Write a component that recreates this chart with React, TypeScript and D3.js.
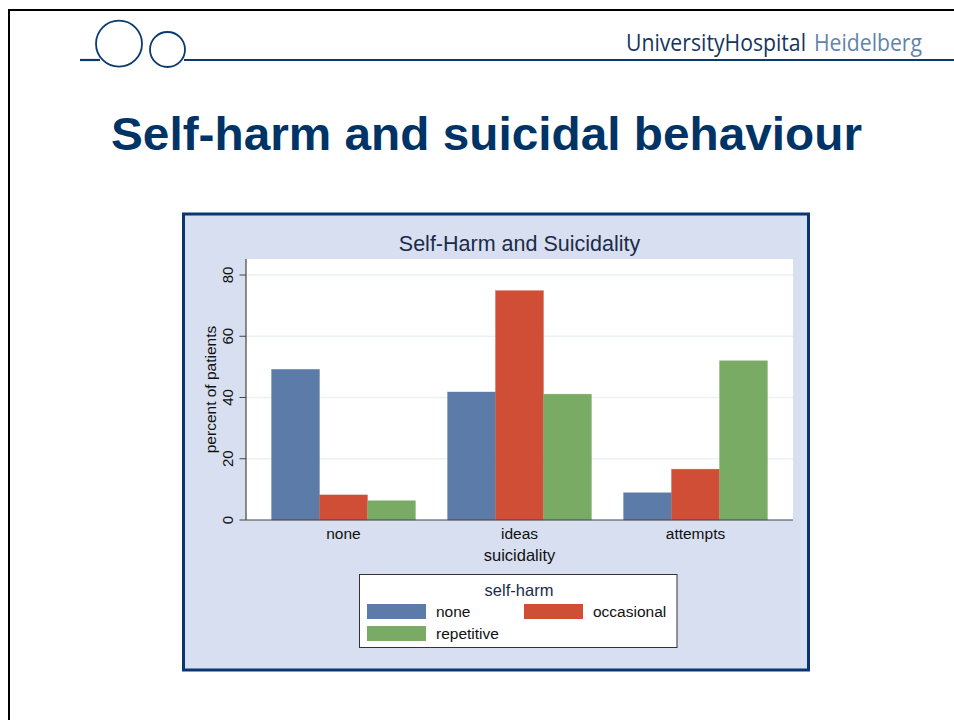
import React from "react";
import * as d3 from "d3";

const categories = ["none", "ideas", "attempts"];
const seriesNames = ["none", "occasional", "repetitive"];
const selfHarmNone = [49.2, 41.8, 8.9];
const selfHarmOccasional = [8.2, 74.9, 16.6];
const selfHarmRepetitive = [6.3, 41.1, 52.0];
const seriesColors = ["#5c7ba8", "#d04e36", "#7aab64"];
const yTicks = [0, 20, 40, 60, 80];

const chartTitle = "Self-Harm and Suicidality";
const yLabel = "percent of patients";
const xLabel = "suicidality";
const legendTitle = "self-harm";

const FONT = "'Liberation Sans', Arial, Helvetica, sans-serif";

export default function App() {
  const seriesValues = [selfHarmNone, selfHarmOccasional, selfHarmRepetitive];
  const plotL = 246, plotR = 793, plotT = 259, plotB = 520;

  const x0 = d3.scaleBand<string>().domain(categories).range([plotL, plotR]).paddingInner(0.182).paddingOuter(0.145);
  const x1 = d3.scaleBand<string>().domain(seriesNames).range([0, x0.bandwidth()]).padding(0);
  const y = d3.scaleLinear().domain([0, 80]).range([plotB, 275]);

  const bars: { x: number; y: number; w: number; h: number; c: string; k: string }[] = [];
  categories.forEach((cat, ci) => {
    seriesNames.forEach((s, si) => {
      const v = seriesValues[si][ci];
      bars.push({
        x: (x0(cat) ?? 0) + (x1(s) ?? 0),
        y: y(v),
        w: x1.bandwidth(),
        h: y(0) - y(v),
        c: seriesColors[si],
        k: cat + "-" + s,
      });
    });
  });

  const navy = "#0d3a6e";

  const legendCols = [367, 524];
  const legendRows = [604, 626];

  return (
    <svg width={954} height={720} style={{ position: "absolute", left: 0, top: 0, display: "block", background: "#fff" }} fontFamily={FONT}>
      <rect x={0} y={0} width={954} height={720} fill="#fff" />
      {/* page frame */}
      <line x1={8} y1={10} x2={954} y2={10} stroke="#000" strokeWidth={2} />
      <line x1={9} y1={10} x2={9} y2={720} stroke="#000" strokeWidth={2} />

      {/* header logo */}
      <line x1={80} y1={60} x2={100} y2={60} stroke={navy} strokeWidth={2.2} />
      <line x1={184} y1={60} x2={954} y2={60} stroke={navy} strokeWidth={2.2} />
      <circle cx={119} cy={43.7} r={23} fill="#fff" stroke={navy} strokeWidth={1.8} />
      <circle cx={167.5} cy={49.5} r={17.5} fill="#fff" stroke={navy} strokeWidth={1.8} />
      <text x={626} y={51} fontSize={23} fontFamily="'Open Sans', 'DejaVu Sans', sans-serif">
        <tspan fill="#17345f" textLength={180} lengthAdjust="spacingAndGlyphs">UniversityHospital</tspan>
        <tspan x={814} fill="#6283ab" textLength={108} lengthAdjust="spacingAndGlyphs">Heidelberg</tspan>
      </text>

      {/* slide title */}
      <text x={111} y={150} fontSize={47} fontWeight="bold" fill="#003366" textLength={751} lengthAdjust="spacingAndGlyphs">Self-harm and suicidal behaviour</text>

      {/* chart panel */}
      <rect x={183.5} y={214} width={625} height={456} fill="#d7dff0" stroke="#0b3770" strokeWidth={3} />
      <text x={519.5} y={251} fontSize={21.5} fill="#1c2b4a" textAnchor="middle">{chartTitle}</text>

      {/* plot region */}
      <rect x={plotL} y={plotT} width={plotR - plotL} height={plotB - plotT} fill="#fff" />
      {yTicks.filter((t) => t > 0).map((t) => (
        <line key={"g" + t} x1={plotL} x2={plotR} y1={y(t)} y2={y(t)} stroke="#eaf2f3" strokeWidth={1.5} />
      ))}
      {bars.map((b) => (
        <rect key={b.k} x={b.x} y={b.y} width={b.w} height={b.h} fill={b.c} stroke={b.c} strokeOpacity={0.5} strokeWidth={0.6} />
      ))}
      {/* axes */}
      <line x1={plotL} x2={plotR} y1={plotB} y2={plotB} stroke="#444" strokeWidth={1.2} />
      <line x1={plotL} x2={plotL} y1={plotT} y2={plotB} stroke="#444" strokeWidth={1.2} />
      {yTicks.map((t) => (
        <g key={"t" + t}>
          <line x1={plotL - 6.5} x2={plotL} y1={y(t)} y2={y(t)} stroke="#444" strokeWidth={1} />
          <text transform={`translate(233,${y(t)}) rotate(-90)`} fontSize={15} textAnchor="middle" fill="#111">{t}</text>
        </g>
      ))}
      <text transform={`translate(215.5,${(plotT + plotB) / 2}) rotate(-90)`} fontSize={15.5} textAnchor="middle" fill="#111">{yLabel}</text>
      {categories.map((c) => (
        <text key={"c" + c} x={(x0(c) ?? 0) + x0.bandwidth() / 2} y={538.5} fontSize={15.5} textAnchor="middle" fill="#111">{c}</text>
      ))}
      <text x={519.5} y={561} fontSize={16.5} textAnchor="middle" fill="#111">{xLabel}</text>

      {/* legend */}
      <rect x={359.5} y={574.5} width={317.5} height={73} fill="#fff" stroke="#333" strokeWidth={1} />
      <text x={519} y={596} fontSize={16.5} textAnchor="middle" fill="#1c2b4a">{legendTitle}</text>
      {seriesNames.map((s, i) => {
        const cx = legendCols[i % 2];
        const ry = legendRows[Math.floor(i / 2)];
        return (
          <g key={"l" + s}>
            <rect x={cx} y={ry} width={59} height={15} fill={seriesColors[i]} />
            <text x={cx + 69} y={ry + 13} fontSize={15.5} fill="#111">{s}</text>
          </g>
        );
      })}
    </svg>
  );
}
